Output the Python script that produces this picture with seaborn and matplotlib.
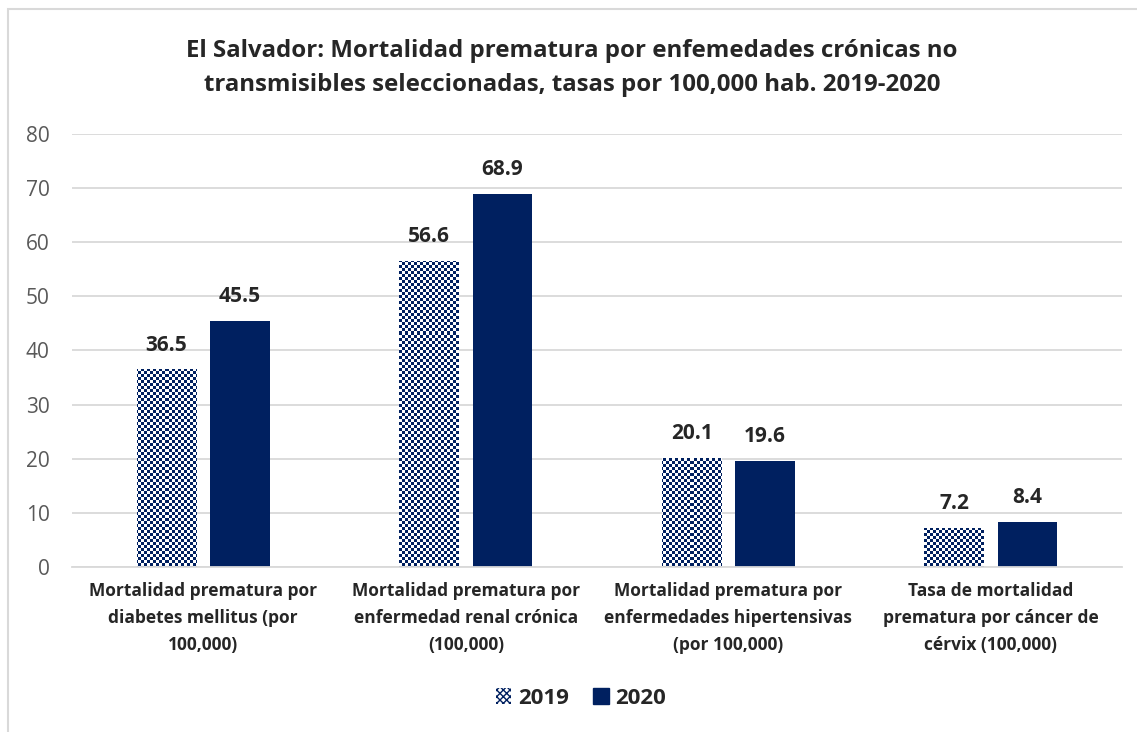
import numpy as np
import pandas as pd
import matplotlib.pyplot as plt
import seaborn as sns
from matplotlib.patches import Patch, Rectangle

# datos
categorias = [
    'Mortalidad prematura por\ndiabetes mellitus (por\n100,000)',
    'Mortalidad prematura por\nenfermedad renal crónica\n(100,000)',
    'Mortalidad prematura por\nenfermedades hipertensivas\n(por 100,000)',
    'Tasa de mortalidad\nprematura por cáncer de\ncérvix (100,000)',
]
valores_2019 = [36.5, 56.6, 20.1, 7.2]
valores_2020 = [45.5, 68.9, 19.6, 8.4]
anios = ['2019', '2020']

df = pd.DataFrame({
    'Categoria': categorias * 2,
    'Anio': [anios[0]] * 4 + [anios[1]] * 4,
    'Tasa': valores_2019 + valores_2020,
})

navy = '#002060'
gris = '#d9d9d9'

sns.set_style('white')
plt.rcParams['font.family'] = ['Open Sans', 'DejaVu Sans']

fig = plt.figure(figsize=(11.37, 7.32), dpi=100)
ax = fig.add_axes([0.0633, 0.2254, 0.9237, 0.5916])

sns.barplot(data=df, x='Categoria', y='Tasa', hue='Anio', palette=['white', navy],
            width=0.56, gap=0.19, ax=ax, legend=False, linewidth=0, saturation=1)

ax.set_ylim(0, 80)
ax.set_yticks(range(0, 81, 10))
ax.yaxis.grid(True, color=gris, linewidth=1.3)
ax.set_axisbelow(True)
for s in ['left', 'right', 'top']:
    ax.spines[s].set_visible(False)
ax.spines['bottom'].set_color(gris)
ax.spines['bottom'].set_linewidth(1.3)
ax.tick_params(axis='y', length=0, labelsize=15, labelcolor='#595959', pad=16)
ax.tick_params(axis='x', length=0, pad=11)
ax.set_xlabel('')
ax.set_ylabel('')
for lab in ax.get_xticklabels():
    lab.set_fontsize(12.5)
    lab.set_fontweight('bold')
    lab.set_linespacing(1.62)

# patrón de cuadros para 2019
fig.canvas.draw()
bbox = ax.get_window_extent()
w, h = int(bbox.width), int(bbox.height)
celda = 3
yy, xx = np.mgrid[0:h, 0:w]
tablero = ((xx // celda + yy // celda) % 2).astype(float)
cmap = plt.matplotlib.colors.ListedColormap(['white', navy])
bars_2019 = ax.containers[0]
for bar in bars_2019:
    im = ax.imshow(tablero, cmap=cmap, interpolation='nearest', extent=[0, 1, 0, 1],
                   transform=ax.transAxes, aspect='auto', zorder=2)
    im.set_clip_path(bar)
ax.set_xlim(-0.5, 3.5)

for cont in ax.containers:
    ax.bar_label(cont, fmt='%.1f', padding=10, fontsize=15, fontweight='bold')

fig.suptitle('El Salvador: Mortalidad prematura por enfemedades crónicas no\n'
             'transmisibles seleccionadas, tasas por 100,000 hab. 2019-2020',
             x=0.503, y=0.947, fontsize=17.3, fontweight='bold', linespacing=1.55)

handles = [Patch(facecolor='white', edgecolor=navy, hatch='xxxxx', linewidth=0),
           Patch(facecolor=navy, edgecolor=navy)]
leg = fig.legend(handles, anios, loc='center', bbox_to_anchor=(0.511, 0.046), ncol=2,
                 frameon=False, prop={'weight': 'bold', 'size': 16},
                 handlelength=0.7, handleheight=0.7, handletextpad=0.3, columnspacing=1.1)

fig.patches.append(Rectangle((8 / 1137, -0.05), 1.2, 1.05 - 9 / 732, transform=fig.transFigure,
                             fill=False, edgecolor=gris, linewidth=1.5))

plt.savefig('out.png', dpi=100)
